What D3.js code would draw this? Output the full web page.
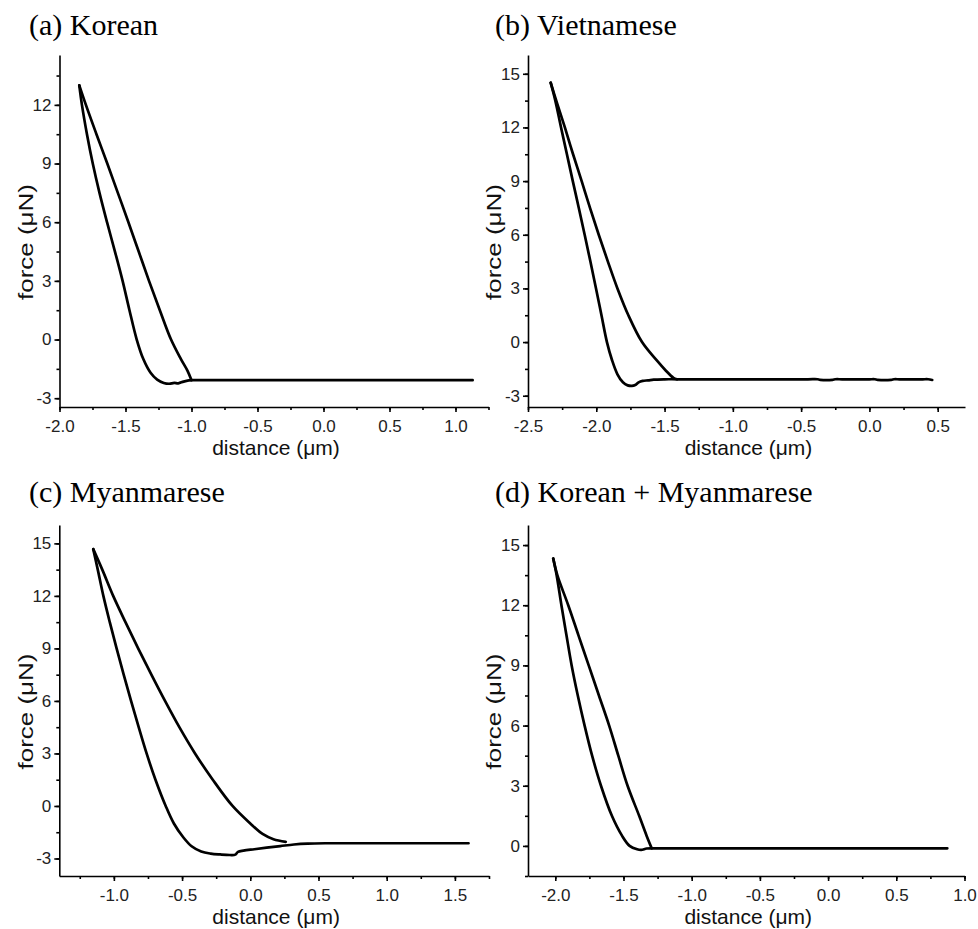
<!DOCTYPE html>
<html><head><meta charset="utf-8">
<script src="https://cdn.jsdelivr.net/npm/d3@7/dist/d3.min.js"></script>
<style>body{margin:0;background:#fff}</style>
</head><body>
<svg id="c" width="978" height="929"></svg>
<script>
// ---------- data (distance µm, force µN) ----------
const koreanLeft = [[-1.85,13.0],[-1.830,12.0],[-1.792,10.5],[-1.748,9.0],[-1.697,7.5],[-1.640,6.0],[-1.580,4.5],[-1.522,3.0],[-1.470,1.5],[-1.415,0.0],[-1.365,-1.0],[-1.31,-1.7],[-1.26,-2.05],[-1.21,-2.22],[-1.17,-2.26],[-1.13,-2.22],[-1.10,-2.24],[-1.06,-2.15],[-1.02,-2.09],[-0.98,-2.08],[-0.9,-2.08],[1.05,-2.08],[1.13,-2.08]];
const koreanRight = [[-1.85,13.0],[-1.80,12.0],[-1.72,10.5],[-1.638,9.0],[-1.558,7.5],[-1.478,6.0],[-1.400,4.5],[-1.322,3.0],[-1.240,1.5],[-1.155,0.0],[-1.08,-1.0],[-1.03,-1.6],[-1.0,-2.08]];

const vietLeft = [[-2.334,14.5],[-2.300,13.5],[-2.258,12.0],[-2.215,10.5],[-2.172,9.0],[-2.128,7.5],[-2.085,6.0],[-2.043,4.5],[-2.002,3.0],[-1.962,1.5],[-1.922,0.0],[-1.885,-1.0],[-1.845,-1.8],[-1.805,-2.25],[-1.77,-2.42],[-1.74,-2.45],[-1.715,-2.4],[-1.69,-2.25],[-1.66,-2.17],[-1.62,-2.14],[-1.58,-2.1],[-1.5,-2.08],[-1.4,-2.08],[-0.45,-2.08],[-0.38,-2.08],[-0.36,-2.11],[-0.27,-2.11],[-0.25,-2.08],[-0.2,-2.08],[0.0,-2.08],[0.04,-2.08],[0.06,-2.11],[0.16,-2.11],[0.18,-2.08],[0.22,-2.08],[0.39,-2.08],[0.43,-2.08],[0.46,-2.12]];
const vietRight = [[-2.334,14.5],[-2.285,13.3],[-2.23,12.0],[-2.17,10.5],[-2.107,9.0],[-2.046,7.5],[-1.982,6.0],[-1.915,4.5],[-1.845,3.0],[-1.765,1.5],[-1.665,0.0],[-1.56,-1.0],[-1.49,-1.6],[-1.435,-2.0],[-1.41,-2.08]];

const myanLeft = [[-1.151,14.67],[-1.118,13.5],[-1.077,12],[-1.030,10.5],[-0.980,9],[-0.928,7.5],[-0.874,6],[-0.818,4.5],[-0.760,3],[-0.695,1.5],[-0.620,0],[-0.56,-1.0],[-0.49,-1.8],[-0.43,-2.3],[-0.36,-2.6],[-0.29,-2.72],[-0.22,-2.77],[-0.15,-2.8],[-0.11,-2.78],[-0.09,-2.62],[-0.05,-2.55],[0.03,-2.47],[0.12,-2.38],[0.22,-2.29],[0.32,-2.2],[0.42,-2.15],[0.55,-2.13],[0.65,-2.13],[1.5,-2.13],[1.6,-2.13]];
const myanRight = [[-1.151,14.67],[-1.085,13.5],[-1.005,12],[-0.915,10.5],[-0.822,9],[-0.725,7.5],[-0.625,6],[-0.52,4.5],[-0.405,3],[-0.275,1.5],[-0.13,0],[0.0,-1.0],[0.09,-1.6],[0.17,-1.9],[0.26,-2.05]];

const mixLeft = [[-2.015,14.33],[-1.99,13.5],[-1.955,12.0],[-1.918,10.5],[-1.88,9.0],[-1.835,7.5],[-1.785,6.0],[-1.73,4.5],[-1.665,3.0],[-1.585,1.5],[-1.51,0.5],[-1.455,0.0],[-1.40,-0.17],[-1.37,-0.2],[-1.33,-0.13],[-1.29,-0.12],[-1.2,-0.12],[0.8,-0.12],[0.874,-0.12]];
const mixRight = [[-2.015,14.33],[-1.985,13.5],[-1.905,12.0],[-1.83,10.5],[-1.755,9.0],[-1.68,7.5],[-1.605,6.0],[-1.538,4.5],[-1.47,3.0],[-1.385,1.5],[-1.33,0.5],[-1.293,-0.12]];

const titles = ["(a) Korean","(b) Vietnamese","(c) Myanmarese","(d) Korean + Myanmarese"];
const xTicksA = [-2.0,-1.5,-1.0,-0.5,0.0,0.5,1.0];
const xTicksB = [-2.5,-2.0,-1.5,-1.0,-0.5,0.0,0.5];
const xTicksC = [-1.0,-0.5,0.0,0.5,1.0,1.5];
const xTicksD = [-2.0,-1.5,-1.0,-0.5,0.0,0.5,1.0];
const yTicksA = [-3,0,3,6,9,12];
const yTicksBC = [-3,0,3,6,9,12,15];
const yTicksD = [0,3,6,9,12,15];
const xDomains = [[-2.0,1.25],[-2.5,0.7],[-1.4,1.75],[-2.2,1.0]];
const yDomains = [[-3.45,14.55],[-3.63,16.05],[-4.0,16.05],[-1.5,16.0]];

// ---------- layout ----------
const layout = [
  {left:59.5, right:488.5, top:55, bottom:407, tx:29, ty:35},
  {left:528, right:965, top:55, bottom:407, tx:495, ty:35},
  {left:59.3, right:489, top:525, bottom:876, tx:29, ty:502},
  {left:528, right:964.5, top:525, bottom:876, tx:495, ty:502}
];
const panels = [
  {title:titles[0], xd:xDomains[0], yd:yDomains[0], xt:xTicksA, yt:yTicksA, curves:[koreanLeft,koreanRight]},
  {title:titles[1], xd:xDomains[1], yd:yDomains[1], xt:xTicksB, yt:yTicksBC, curves:[vietLeft,vietRight]},
  {title:titles[2], xd:xDomains[2], yd:yDomains[2], xt:xTicksC, yt:yTicksBC, curves:[myanLeft,myanRight]},
  {title:titles[3], xd:xDomains[3], yd:yDomains[3], xt:xTicksD, yt:yTicksD, curves:[mixLeft,mixRight]}
];

const svg = d3.select("#c");
const sans = "'Liberation Sans', Arial, sans-serif";
const serif = "'Liberation Serif', 'Times New Roman', serif";

function minorVals(domain, step){
  const out=[]; const s=Math.ceil(domain[0]/step-1e-9);
  for(let k=s; k*step<=domain[1]+1e-9; k++) out.push(+(k*step).toFixed(4));
  return out;
}

panels.forEach((p,i)=>{
  const L = layout[i];
  const x = d3.scaleLinear().domain(p.xd).range([L.left, L.right]);
  const y = d3.scaleLinear().domain(p.yd).range([L.bottom, L.top]);
  const g = svg.append("g");

  // minor ticks
  g.append("g").attr("transform",`translate(0,${L.bottom})`)
    .call(d3.axisBottom(x).tickValues(minorVals(p.xd,0.25)).tickSize(3).tickFormat("").tickSizeOuter(0))
    .call(a=>a.select(".domain").remove());
  g.append("g").attr("transform",`translate(${L.left},0)`)
    .call(d3.axisLeft(y).tickValues(minorVals(p.yd,1.5)).tickSize(3).tickFormat("").tickSizeOuter(0))
    .call(a=>a.select(".domain").remove());

  // major axes
  const xa = g.append("g").attr("transform",`translate(0,${L.bottom})`)
    .call(d3.axisBottom(x).tickValues(p.xt).tickFormat(d3.format(".1f")).tickSize(5).tickPadding(8).tickSizeOuter(0));
  const ya = g.append("g").attr("transform",`translate(${L.left},0)`)
    .call(d3.axisLeft(y).tickValues(p.yt).tickFormat(d3.format("d")).tickSize(5).tickPadding(3).tickSizeOuter(0));
  [xa,ya].forEach(a=>{
    a.selectAll("path,line").attr("stroke","#000").attr("stroke-width",1.6);
    a.selectAll("text").attr("font-family",sans).attr("font-size",17).attr("fill","#222");
  });
  g.selectAll("g.tick line").attr("stroke","#000").attr("stroke-width",1.6);
  xa.selectAll("text").text(d=>d3.format(".1f")(d).replace("−","-"));
  ya.selectAll("text").text(d=>String(d).replace("−","-"));

  // curves
  const line = d3.line().x(d=>x(d[0])).y(d=>y(d[1])).curve(d3.curveCatmullRom.alpha(0.5));
  p.curves.forEach(c=>{
    g.append("path").attr("d",line(c)).attr("fill","none").attr("stroke","#000")
      .attr("stroke-width",2.7).attr("stroke-linejoin","round").attr("stroke-linecap","round");
  });

  // titles & axis labels
  svg.append("text").attr("x",L.tx).attr("y",L.ty).attr("font-family",serif).attr("font-size",30)
    .attr("fill","#000").text(p.title);
  svg.append("text").attr("x",(L.left+L.right)/2+2).attr("y",L.bottom+48).attr("text-anchor","middle")
    .attr("font-family",sans).attr("font-size",21).attr("fill","#111").text("distance (μm)");
  const cy = (L.top+L.bottom)/2+11;
  svg.append("text").attr("transform",`translate(${L.left-34},${cy}) rotate(-90)`)
    .attr("text-anchor","middle").attr("dy","0.35em")
    .attr("textLength",116).attr("lengthAdjust","spacingAndGlyphs")
    .attr("font-family",sans).attr("font-size",21).attr("fill","#111").text("force (μN)");
});
</script>
</body></html>
